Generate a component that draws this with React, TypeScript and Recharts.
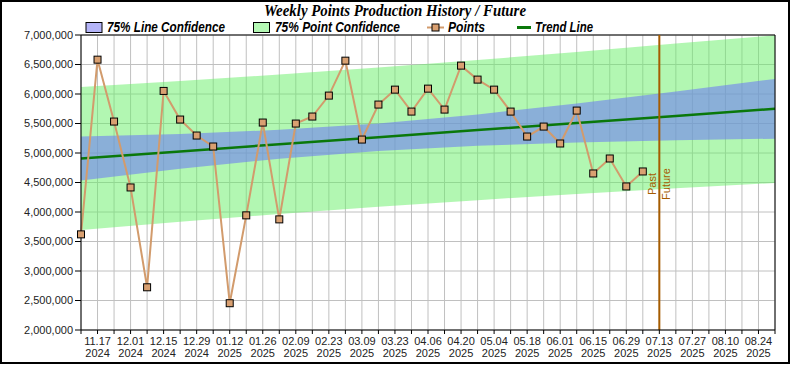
import { Area, CartesianGrid, ComposedChart, Line, ReferenceLine, XAxis, YAxis } from "recharts";

// week starting dates, one per category (label shown on every other one)
const WEEKS = [
  "11.10 2024", "11.17 2024", "11.24 2024", "12.01 2024", "12.08 2024", "12.15 2024",
  "12.22 2024", "12.29 2024", "01.05 2025", "01.12 2025", "01.19 2025", "01.26 2025",
  "02.02 2025", "02.09 2025", "02.16 2025", "02.23 2025", "03.02 2025", "03.09 2025",
  "03.16 2025", "03.23 2025", "03.30 2025", "04.06 2025", "04.13 2025", "04.20 2025",
  "04.27 2025", "05.04 2025", "05.11 2025", "05.18 2025", "05.25 2025", "06.01 2025",
  "06.08 2025", "06.15 2025", "06.22 2025", "06.29 2025", "07.06 2025", "07.13 2025",
  "07.20 2025", "07.27 2025", "08.03 2025", "08.10 2025", "08.17 2025", "08.24 2025",
  "08.31 2025",
];

const POINTS = [
  3621000, 6582000, 5533000, 4416000, 2724000, 6052000, 5567000, 5296000, 5110000,
  2454000, 3943000, 5516000, 3875000, 5499000, 5618000, 5973000, 6565000, 5228000,
  5821000, 6074000, 5702000, 6091000, 5736000, 6481000, 6244000, 6074000, 5702000,
  5279000, 5448000, 5161000, 5719000, 4653000, 4907000, 4433000, 4687000,
];

// trend + confidence bands, read at every 6th week
const BAND_WEEKS = [0, 6, 12, 18, 24, 30, 36, 42];
const TREND = [4907000, 5027000, 5148000, 5268000, 5388000, 5509000, 5629000, 5749000];
const LINE_LOW = [4535000, 4731000, 4904000, 5036000, 5122000, 5178000, 5215000, 5243000];
const LINE_HIGH = [5279000, 5323000, 5392000, 5500000, 5654000, 5840000, 6043000, 6255000];
const POINT_LOW = [3694000, 3834000, 3966000, 4088000, 4201000, 4307000, 4403000, 4492000];
const POINT_HIGH = [6120000, 6220000, 6330000, 6448000, 6575000, 6711000, 6855000, 6995000];

const Y_TICKS = [2000000, 2500000, 3000000, 3500000, 4000000, 4500000, 5000000, 5500000, 6000000, 6500000, 7000000];
const NOW_WEEK = 35;

const pointData = POINTS.map((v, i) => ({ week: i, points: v }));
const bandData = BAND_WEEKS.map((w, k) => ({
  week: w,
  trend: TREND[k],
  lineBand: [LINE_LOW[k], LINE_HIGH[k]],
  pointBand: [POINT_LOW[k], POINT_HIGH[k]],
}));
const xTicks = WEEKS.map((_, i) => i);

const SANS = "'Liberation Sans', Arial, sans-serif";

function WeekTick({ x, y, payload }: any) {
  const i = payload.value;
  if (i % 2 === 0) return <g />;
  const [md, yr] = WEEKS[i].split(" ");
  return (
    <text x={x} y={y} textAnchor="middle" fontSize={11} fill="#222" fontFamily={SANS}>
      <tspan x={x} dy={9}>{md}</tspan>
      <tspan x={x} dy={12}>{yr}</tspan>
    </text>
  );
}

function SquareDot({ cx, cy }: any) {
  if (cx == null || cy == null) return null;
  return <rect x={cx - 3.5} y={cy - 3.5} width={7} height={7} fill="#d9a071" stroke="#000" strokeWidth={1} />;
}

function NowLabel({ viewBox }: any) {
  const x = viewBox.x;
  const cy = viewBox.y + viewBox.height / 2 + 1.5;
  return (
    <g fontSize={11} fill="#a65c00" fontFamily={SANS}>
      <text x={x - 3} y={cy} textAnchor="middle" transform={`rotate(-90 ${x - 3} ${cy})`}>Past</text>
      <text x={x + 11} y={cy} textAnchor="middle" transform={`rotate(-90 ${x + 11} ${cy})`}>Future</text>
    </g>
  );
}

function Header() {
  const legendFont = { fontFamily: SANS, fontSize: 14, fontWeight: 700, fontStyle: "italic" } as const;
  return (
    <svg width={790} height={40} style={{ position: "absolute", left: 0, top: 0 }}>
      <text x={264} y={16} textLength={262} lengthAdjust="spacingAndGlyphs"
        fontFamily="'Liberation Serif', 'Times New Roman', serif" fontSize={16} fontWeight={700} fontStyle="italic">
        Weekly Points Production History / Future
      </text>
      <rect x={86} y={22.5} width={16} height={10} fill="#b4b4f8" stroke="#000" />
      <text x={107} y={32} textLength={118} lengthAdjust="spacingAndGlyphs" {...legendFont}>75% Line Confidence</text>
      <rect x={253.5} y={22.5} width={16} height={10} fill="#b4f8b4" stroke="#000" />
      <text x={275} y={32} textLength={125} lengthAdjust="spacingAndGlyphs" {...legendFont}>75% Point Confidence</text>
      <line x1={427} x2={444} y1={27.5} y2={27.5} stroke="#d29b6c" strokeWidth={2} />
      <rect x={432} y={24} width={7} height={7} fill="#d9a071" stroke="#000" />
      <text x={448} y={32} textLength={37} lengthAdjust="spacingAndGlyphs" {...legendFont}>Points</text>
      <line x1={517} x2={531} y1={27.5} y2={27.5} stroke="#0a780a" strokeWidth={3} />
      <text x={535} y={32} textLength={58} lengthAdjust="spacingAndGlyphs" {...legendFont}>Trend Line</text>
    </svg>
  );
}

export default function App() {
  return (
    <div style={{ position: "absolute", left: 0, top: 0, width: 790, height: 365, background: "#fff" }}>
      <ComposedChart width={790} height={365} margin={{ top: 35, right: 15, bottom: 1, left: 0 }}>
        <CartesianGrid stroke="#c0c0c0" />
        <XAxis
          dataKey="week"
          type="number"
          domain={[0, 42]}
          ticks={xTicks}
          interval={0}
          height={34}
          tickSize={4}
          tick={<WeekTick />}
          axisLine={{ stroke: "#000" }}
          tickLine={{ stroke: "#000" }}
        />
        <YAxis
          type="number"
          domain={[2000000, 7000000]}
          ticks={Y_TICKS}
          width={81}
          tickSize={6}
          tickFormatter={(v: number) => v.toLocaleString("en-US")}
          tick={{ fontSize: 11, fill: "#222", fontFamily: SANS }}
          axisLine={{ stroke: "#000" }}
          tickLine={{ stroke: "#000" }}
        />
        <Area data={bandData} dataKey="pointBand" type="linear" fill="#66f066" fillOpacity={0.5} stroke="none" isAnimationActive={false} />
        <Area data={bandData} dataKey="lineBand" type="linear" fill="#6f7ef1" fillOpacity={0.6} stroke="none" isAnimationActive={false} />
        <Line data={bandData} dataKey="trend" type="linear" stroke="#0a780a" strokeWidth={2.5} dot={false} isAnimationActive={false} />
        <Line data={pointData} dataKey="points" type="linear" stroke="#d29b6c" strokeWidth={2} dot={<SquareDot />} isAnimationActive={false} />
        <ReferenceLine y={7000000} stroke="#000" />
        <ReferenceLine x={42} stroke="#000" />
        <ReferenceLine x={NOW_WEEK} stroke="#a65c00" strokeWidth={2} label={(p: any) => <NowLabel {...p} />} />
      </ComposedChart>
      <Header />
      <div style={{ position: "absolute", left: 0, top: 0, width: 790, height: 364, border: "2px solid #000", boxSizing: "border-box", pointerEvents: "none" }} />
    </div>
  );
}
